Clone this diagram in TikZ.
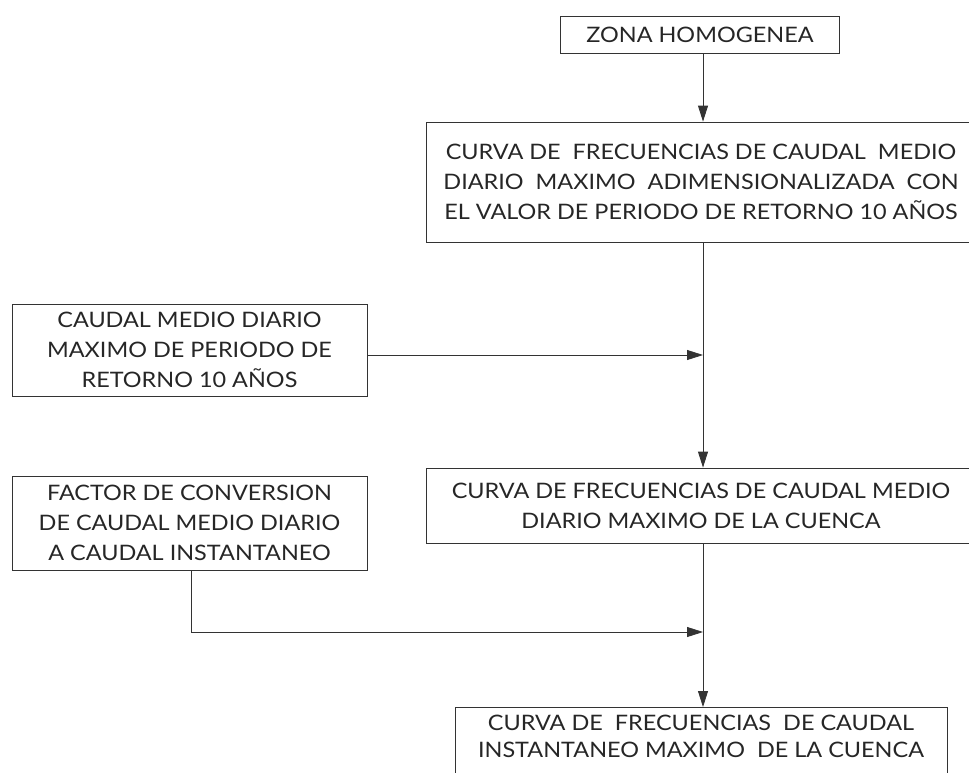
\documentclass[tikz,border=0pt]{standalone}
\usepackage{fontspec}
\setmainfont[FakeStretch=1.1]{Lato}
\usetikzlibrary{arrows.meta}
\begin{document}
\begin{tikzpicture}[x=1pt,y=-1pt,
  box/.style={draw=black!80, line width=0.8pt, inner sep=0pt, align=center,
    font=\fontsize{21.3}{30}\selectfont, text=black!85},
  txt/.style={inner sep=0pt, align=center, font=\fontsize{21.3}{27}\selectfont, text=black!85},
  conn/.style={draw=black!80, line width=0.8pt},
  tip/.style={-{Triangle[length=16pt,width=10pt]}}]
\useasboundingbox (0,0) rectangle (969,772);
\clip (0,0) rectangle (969,772);
\node[box, minimum width=279pt, minimum height=37pt] (b1) at (700,34.5) {ZONA HOMOGENEA};
\node[box, minimum width=550pt, minimum height=120pt] (b2) at (701,182)
  {CURVA DE \ FRECUENCIAS DE CAUDAL \ MEDIO\\DIARIO \ MAXIMO \ ADIMENSIONALIZADA \ CON\\EL VALOR DE PERIODO DE RETORNO 10 AÑOS};
\node[box, minimum width=355pt, minimum height=92pt] (b3) at (189.5,350)
  {CAUDAL MEDIO DIARIO\\MAXIMO DE PERIODO DE\\RETORNO 10 AÑOS};
\node[box, minimum width=355pt, minimum height=94pt] (b4) at (189.5,523)
  {FACTOR DE CONVERSION\\DE CAUDAL MEDIO DIARIO\\A CAUDAL INSTANTANEO};
\node[box, minimum width=550pt, minimum height=75pt] (b5) at (701,505.5)
  {CURVA DE FRECUENCIAS DE CAUDAL MEDIO\\DIARIO MAXIMO DE LA CUENCA};
\node[box, anchor=north, minimum width=492pt, minimum height=80pt] (b6) at (701,707) {};
\node[txt] (b6t) at (701,736.5)
  {CURVA DE \ FRECUENCIAS \ DE CAUDAL\\INSTANTANEO MAXIMO \ DE LA CUENCA};
\coordinate (j1) at (703,355);
\coordinate (j2) at (703,632);
\coordinate (k2) at (191,632);
\draw[conn, tip] ([xshift=3pt]b1.south) -- ([xshift=2pt]b2.north);
\draw[conn, tip] ([xshift=2pt]b2.south) -- ([xshift=2pt]b5.north);
\draw[conn, tip] (b3.east |- j1) -- (j1);
\draw[conn, tip] ([xshift=2pt]b5.south) -- ([xshift=2pt]b6.north);
\draw[conn, tip] (k2 |- b4.south) -- (k2) -- (j2);
\end{tikzpicture}
\end{document}
